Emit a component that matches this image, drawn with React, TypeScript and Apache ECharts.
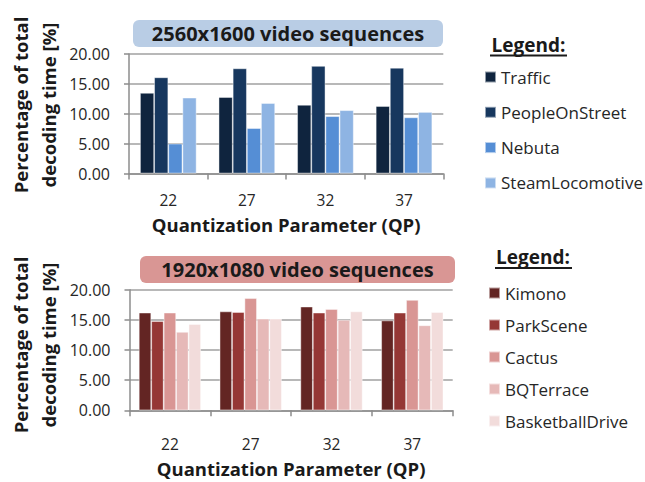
import React, { useEffect, useRef } from "react";
import * as echarts from "echarts";

const qpLabels = ["22", "27", "32", "37"];
const yTicks = [0, 5, 10, 15, 20];

const topNames = ["Traffic", "PeopleOnStreet", "Nebuta", "SteamLocomotive"];
const traffic = [13.5, 12.8, 11.5, 11.3];
const peopleOnStreet = [16.1, 17.6, 18.0, 17.7];
const nebuta = [5.0, 7.6, 9.6, 9.4];
const steamLocomotive = [12.7, 11.8, 10.6, 10.3];
const topColors = ["#0f243e", "#17375e", "#558ed5", "#8eb4e3"];

const bottomNames = ["Kimono", "ParkScene", "Cactus", "BQTerrace", "BasketballDrive"];
const kimono = [16.2, 16.4, 17.2, 14.9];
const parkScene = [14.8, 16.3, 16.2, 16.2];
const cactus = [16.2, 18.6, 16.8, 18.3];
const bqTerrace = [13.0, 15.2, 15.0, 14.1];
const basketballDrive = [14.3, 15.2, 16.4, 16.3];
const bottomColors = ["#632523", "#953735", "#d99694", "#e6b9b8", "#f2dcdb"];

const FONT = "Open Sans";
const TXT = "#262626";
const DARK = "#1a1a1a";

export default function App() {
  const ref = useRef<HTMLDivElement>(null);
  useEffect(() => {
    if (!ref.current) return;
    const chart = echarts.init(ref.current, undefined, { renderer: "svg" });

    const axisLine = { show: true, lineStyle: { color: "#8c8c8c", width: 1.5 } };
    const mkX = (gridIndex: number, margin: number, nameGap: number) => ({
      type: "category",
      gridIndex,
      data: qpLabels,
      axisLine,
      axisTick: { show: true, length: 6, lineStyle: { color: "#8c8c8c", width: 1.5 } },
      axisLabel: { fontFamily: FONT, fontSize: 15.5, color: TXT, margin, lineHeight: 16 },
      name: "Quantization Parameter (QP)",
      nameLocation: "middle",
      nameGap,
      nameTextStyle: { fontFamily: FONT, fontSize: 18.5, fontWeight: "bold", color: DARK, lineHeight: 19 },
    });
    const mkY = (gridIndex: number) => ({
      type: "value",
      gridIndex,
      min: yTicks[0],
      max: yTicks[yTicks.length - 1],
      interval: yTicks[1] - yTicks[0],
      axisLine,
      axisTick: { show: true, length: 5, lineStyle: { color: "#8c8c8c", width: 1.5 } },
      axisLabel: {
        fontFamily: FONT,
        fontSize: 16,
        color: TXT,
        margin: 19,
        formatter: (v: number) => v.toFixed(2),
      },
      splitLine: { show: true, lineStyle: { color: "#a0a0a0", width: 1.5 } },
    });

    const topData = [traffic, peopleOnStreet, nebuta, steamLocomotive];
    const bottomData = [kimono, parkScene, cactus, bqTerrace, basketballDrive];

    const series: any[] = [];
    topNames.forEach((n, i) =>
      series.push({
        type: "bar",
        name: n,
        xAxisIndex: 0,
        yAxisIndex: 0,
        data: topData[i],
        barGap: "0%",
        barCategoryGap: "28%",
        itemStyle: { color: topColors[i], borderColor: "rgba(255,255,255,0.55)", borderWidth: 0.8 },
      })
    );
    bottomNames.forEach((n, i) =>
      series.push({
        type: "bar",
        name: n,
        xAxisIndex: 1,
        yAxisIndex: 1,
        data: bottomData[i],
        barGap: "0%",
        barCategoryGap: "23%",
        itemStyle: { color: bottomColors[i], borderColor: "rgba(255,255,255,0.55)", borderWidth: 0.8 },
      })
    );

    const legendText = { fontFamily: FONT, fontSize: 17, color: TXT, lineHeight: 15 };
    const titleStyle = { fontFamily: FONT, fontSize: 20, fontWeight: "bold", fill: DARK, align: "center", verticalAlign: "middle" };
    const yTitleStyle = {
      text: "Percentage of total\ndecoding time [%]",
      fontFamily: FONT,
      fontSize: 18.5,
      fontWeight: "bold",
      fill: DARK,
      align: "center",
      verticalAlign: "middle",
      lineHeight: 28,
    };
    const legendHead = { text: "Legend:", fontFamily: FONT, fontSize: 19, fontWeight: "bold", fill: DARK, align: "center", verticalAlign: "middle" };

    chart.setOption({
      animation: false,
      backgroundColor: "#ffffff",
      grid: [
        { left: 129, right: 201.7, top: 54, height: 119.5 },
        { left: 129.5, right: 192.3, top: 289.7, height: 120.6 },
      ],
      xAxis: [mkX(0, 18, 41), mkX(1, 26, 49)],
      yAxis: [mkY(0), mkY(1)],
      legend: [
        {
          orient: "vertical",
          left: 484,
          top: 68.5,
          padding: 0,
          itemWidth: 11,
          itemHeight: 11,
          itemGap: 18.3,
          icon: "rect",
          selectedMode: false,
          textStyle: legendText,
          data: topNames,
        },
        {
          orient: "vertical",
          left: 488,
          top: 284.5,
          padding: 0,
          itemWidth: 11,
          itemHeight: 11,
          itemGap: 15,
          icon: "rect",
          selectedMode: false,
          textStyle: legendText,
          data: bottomNames,
        },
      ],
      graphic: [
        { type: "rect", shape: { x: 133, y: 20, width: 310, height: 27, r: 6 }, style: { fill: "#b9cde5" } },
        { type: "text", x: 288, y: 33.5, style: { ...titleStyle, text: "2560x1600 video sequences" } },
        { type: "rect", shape: { x: 140, y: 256, width: 315, height: 27, r: 6 }, style: { fill: "#d99694" } },
        { type: "text", x: 297.5, y: 269.5, style: { ...titleStyle, text: "1920x1080 video sequences" } },
        { type: "text", x: 34, y: 105, rotation: Math.PI / 2, style: yTitleStyle },
        { type: "text", x: 34, y: 345, rotation: Math.PI / 2, style: yTitleStyle },
        { type: "text", x: 528.5, y: 45, style: legendHead },
        { type: "line", shape: { x1: 490, y1: 55.5, x2: 567, y2: 55.5 }, style: { stroke: DARK, lineWidth: 2 } },
        { type: "text", x: 533, y: 257, style: legendHead },
        { type: "line", shape: { x1: 495, y1: 268, x2: 572, y2: 268 }, style: { stroke: DARK, lineWidth: 2 } },
      ],
      series,
    });
    return () => chart.dispose();
  }, []);
  return <div ref={ref} style={{ position: "fixed", left: 0, top: 0, width: 645, height: 482 }} />;
}
